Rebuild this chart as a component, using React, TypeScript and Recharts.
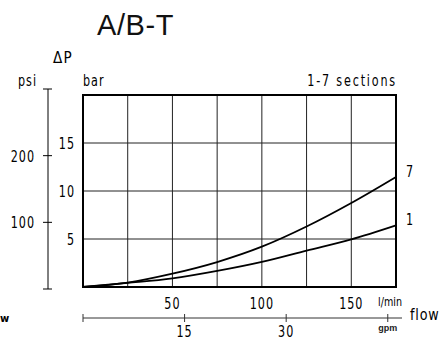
import React from "react";
import {
  ComposedChart,
  Line,
  XAxis,
  YAxis,
  CartesianGrid,
  ReferenceArea,
  LabelList,
} from "recharts";

/* ---------- data ---------- */

// flow in l/min, one point per grid column
const flow = [0, 25, 50, 75, 100, 125, 150, 175];
// pressure drop in bar
const dp7 = [0, 0.46, 1.39, 2.6, 4.2, 6.3, 8.75, 11.46]; // 7 sections
const dp1 = [0, 0.42, 0.9, 1.68, 2.62, 3.8, 4.97, 6.43]; // 1 section

const flowTicks = [0, 25, 50, 75, 100, 125, 150, 175];
const flowLabels = [50, 100, 150];
const barTicks = [0, 5, 10, 15, 20];
const barLabels = [5, 10, 15];
const psiTicks = [0, 100, 200, 300];
const psiLabels = [100, 200];
const gpmTicks = [0, 15, 30, 45];
const gpmLabels = [15, 30];
const gpmMax = 47.1;

const seriesNames = { s7: "7", s1: "1" };

const rows = flow.map((q, i) => ({ q, s7: dp7[i], s1: dp1[i] }));

/* ---------- styling ---------- */

const TECH = "'DejaVu Sans', sans-serif";
const INK = "#000";
const GRID = "#222";

// narrow "technical lettering" look: DejaVu squeezed horizontally
function T({
  x,
  y,
  anchor = "start",
  size = 16,
  sx = 0.7,
  ls = 1.4,
  children,
}: {
  x: number;
  y: number;
  anchor?: "start" | "middle" | "end";
  size?: number;
  sx?: number;
  ls?: number;
  children: React.ReactNode;
}) {
  return (
    <text
      transform={`translate(${x},${y}) scale(${sx},1)`}
      textAnchor={anchor}
      fontFamily={TECH}
      fontSize={size}
      letterSpacing={ls}
      fill={INK}
    >
      {children}
    </text>
  );
}

/* ---------- ticks & labels ---------- */

function BarTick({ x, y, payload }: any) {
  if (!barLabels.includes(payload.value)) return null;
  return (
    <T x={x - 8} y={y + 6} anchor="end">
      {payload.value}
    </T>
  );
}

function FlowTick({ x, y, payload }: any) {
  if (payload.value === 175) {
    return (
      <T x={x - 6} y={y + 19} anchor="middle" size={12} sx={0.8} ls={0}>
        l/min
      </T>
    );
  }
  if (!flowLabels.includes(payload.value)) return null;
  return (
    <T x={x} y={y + 22} anchor="middle">
      {payload.value}
    </T>
  );
}

function PsiTick({ x, y, payload }: any) {
  return (
    <g>
      <line x1={x - 5} x2={x + 4} y1={y} y2={y} stroke={INK} strokeWidth={1} />
      {psiLabels.includes(payload.value) && (
        <T x={x - 13} y={y + 6} anchor="end">
          {payload.value}
        </T>
      )}
    </g>
  );
}

function GpmTick({ x, y, payload }: any) {
  return (
    <g>
      <line x1={x} x2={x} y1={y - 4} y2={y + 4} stroke="#333" strokeWidth={1} />
      {gpmLabels.includes(payload.value) && (
        <T x={x} y={y + 19} anchor="middle">
          {payload.value}
        </T>
      )}
      {payload.value === 45 && (
        <text
          x={x}
          y={y + 13}
          textAnchor="middle"
          fontFamily="'Liberation Sans', Arial, sans-serif"
          fontWeight="bold"
          fontSize={9}
          fill="#222"
        >
          gpm
        </text>
      )}
    </g>
  );
}

function BarAxisLabel({ viewBox }: any) {
  return (
    <T x={viewBox.x + viewBox.width} y={viewBox.y - 9}>
      bar
    </T>
  );
}

function PsiAxisLabel({ viewBox }: any) {
  return (
    <g>
      <T x={viewBox.x + viewBox.width - 11} y={viewBox.y - 3} anchor="end">
        psi
      </T>
      <T x={viewBox.x + viewBox.width + 5} y={viewBox.y - 26} sx={0.85}>
        ΔP
      </T>
    </g>
  );
}

function SectionsLabel({ viewBox }: any) {
  return (
    <T x={viewBox.x + viewBox.width + 1} y={viewBox.y - 9} anchor="end" ls={2.6}>
      1-7 sections
    </T>
  );
}

function FlowLabel({ viewBox }: any) {
  return (
    <T x={viewBox.x + viewBox.width + 8} y={viewBox.y + 2} size={15} sx={0.85} ls={1}>
      flow
    </T>
  );
}

const endLabel = (name: string) => (props: any) => {
  if (props.index !== flow.length - 1) return null;
  return (
    <T x={props.x + 10} y={props.y}>
      {name}
    </T>
  );
};

/* ---------- chart ---------- */

const layer = { position: "absolute", left: 0, top: 0 } as const;

export default function App() {
  return (
    <div style={{ position: "absolute", left: 0, top: 0, width: 446, height: 341, background: "#fff" }}>
      {/* psi scale */}
      <div style={layer}>
        <ComposedChart
          width={100}
          height={341}
          data={psiTicks.map((p) => ({ p }))}
          margin={{ top: 89, right: 0, bottom: 52, left: 0 }}
        >
          <XAxis hide dataKey="p" type="number" />
          <YAxis
            dataKey="p"
            type="number"
            domain={[0, 300]}
            ticks={psiTicks}
            interval={0}
            width={48}
            tickSize={0}
            tickMargin={0}
            tickLine={false}
            axisLine={{ stroke: INK, strokeWidth: 1 }}
            tick={<PsiTick />}
            label={<PsiAxisLabel />}
          />
        </ComposedChart>
      </div>

      {/* gpm scale */}
      <div style={layer}>
        <ComposedChart
          width={446}
          height={341}
          data={gpmTicks.map((g) => ({ g }))}
          margin={{ top: 0, right: 44, bottom: 0, left: 83 }}
        >
          <YAxis hide />
          <XAxis
            dataKey="g"
            type="number"
            domain={[0, gpmMax]}
            ticks={gpmTicks}
            interval={0}
            height={23}
            tickSize={0}
            tickMargin={0}
            tickLine={false}
            axisLine={{ stroke: "#333", strokeWidth: 1 }}
            tick={<GpmTick />}
            label={<FlowLabel />}
          />
        </ComposedChart>
      </div>

      {/* main bar / l/min plot */}
      <div style={layer}>
        <ComposedChart
          width={446}
          height={341}
          data={rows}
          margin={{ top: 95, right: 50, bottom: 24, left: 53 }}
        >
          <CartesianGrid stroke={GRID} strokeWidth={1} />
          <XAxis
            dataKey="q"
            type="number"
            domain={[0, 175]}
            ticks={flowTicks}
            interval={0}
            height={30}
            tickSize={0}
            tickMargin={0}
            tickLine={false}
            axisLine={false}
            tick={<FlowTick />}
          />
          <YAxis
            type="number"
            domain={[0, 20]}
            ticks={barTicks}
            interval={0}
            width={30}
            tickSize={0}
            tickMargin={0}
            tickLine={false}
            axisLine={false}
            tick={<BarTick />}
            label={<BarAxisLabel />}
          />
          <ReferenceArea
            x1={0}
            x2={175}
            y1={0}
            y2={20}
            fill="none"
            fillOpacity={0}
            stroke={INK}
            strokeWidth={2}
            label={<SectionsLabel />}
          />
          <Line
            dataKey="s7"
            type="monotone"
            stroke={INK}
            strokeWidth={1.8}
            dot={false}
            isAnimationActive={false}
          >
            <LabelList dataKey="s7" content={endLabel(seriesNames.s7)} />
          </Line>
          <Line
            dataKey="s1"
            type="monotone"
            stroke={INK}
            strokeWidth={1.8}
            dot={false}
            isAnimationActive={false}
          >
            <LabelList dataKey="s1" content={endLabel(seriesNames.s1)} />
          </Line>
        </ComposedChart>
      </div>

      {/* title and the stray letter at the left edge */}
      <svg width={446} height={341} style={{ ...layer, pointerEvents: "none" }}>
        <text
          x={97}
          y={35}
          fontFamily="'Liberation Sans', Arial, sans-serif"
          fontSize={29}
          letterSpacing={0.6}
          fill="#111"
        >
          A/B-T
        </text>
        <text x={0} y={322} fontFamily={TECH} fontWeight="bold" fontSize={10} fill={INK}>
          w
        </text>
      </svg>
    </div>
  );
}
